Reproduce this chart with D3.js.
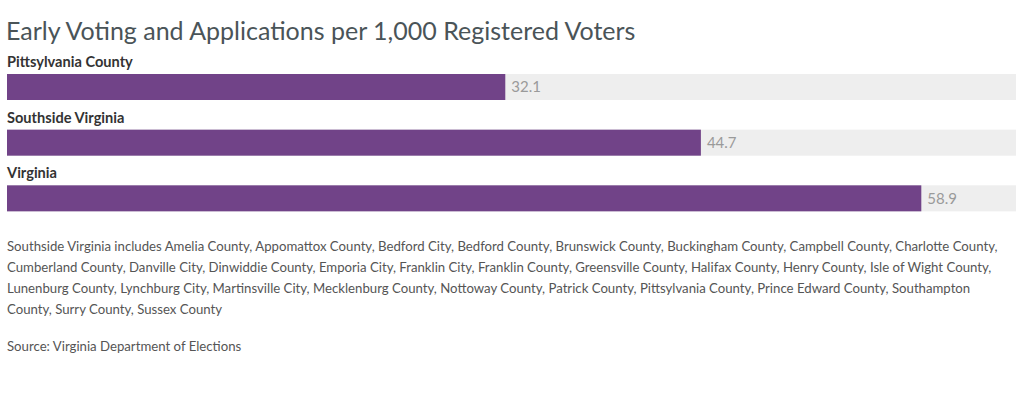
<!DOCTYPE html>
<meta charset="utf-8">
<style>
body { margin: 0; background: #fff; }
svg { display: block; font-family: Lato, sans-serif; }
.title { font-size: 25px; fill: #4a5458; }
.label { font-size: 14.6px; font-weight: bold; fill: #333; }
.value { font-size: 15px; fill: #9a9a9a; }
.note { font-size: 13.2px; fill: #555; }
</style>
<svg width="1024" height="396"></svg>
<script src="https://d3js.org/d3.v7.min.js"></script>
<script>

var categories = ["Pittsylvania County", "Southside Virginia", "Virginia"];
var values = [32.1, 44.7, 58.9];
var noteLines = [
  "Southside Virginia includes Amelia County, Appomattox County, Bedford City, Bedford County, Brunswick County, Buckingham County, Campbell County, Charlotte County,",
  "Cumberland County, Danville City, Dinwiddie County, Emporia City, Franklin City, Franklin County, Greensville County, Halifax County, Henry County, Isle of Wight County,",
  "Lunenburg County, Lynchburg City, Martinsville City, Mecklenburg County, Nottoway County, Patrick County, Pittsylvania County, Prince Edward County, Southampton",
  "County, Surry County, Sussex County"
];
var source = "Source: Virginia Department of Elections";

var svg = d3.select("svg");

var left = 7, right = 1016,
    barH = 26;

var x = d3.scaleLinear().domain([0, 65]).range([left, right]);
var y = d3.scaleBand().domain(categories).range([56, 223]).paddingInner(0);

svg.append("text")
  .attr("class", "title")
  .attr("x", 6)
  .attr("y", 40)
  .text("Early Voting and Applications per 1,000 Registered Voters");

var row = svg.selectAll(".row")
  .data(categories)
  .enter().append("g")
    .attr("class", "row")
    .attr("transform", function(d) { return "translate(0," + y(d) + ")"; });

row.append("text")
  .attr("class", "label")
  .attr("x", left)
  .attr("y", 11)
  .text(function(d) { return d; });

row.append("rect")
  .attr("x", x(0))
  .attr("y", 18)
  .attr("width", x(65) - x(0))
  .attr("height", barH)
  .attr("fill", "#eeeeee");

row.append("rect")
  .attr("x", x(0))
  .attr("y", 18)
  .attr("width", function(d, i) { return x(values[i]) - x(0); })
  .attr("height", barH)
  .attr("fill", "#714388");

row.append("text")
  .attr("class", "value")
  .attr("x", function(d, i) { return x(values[i]) + 6; })
  .attr("y", 18 + barH / 2)
  .attr("dy", "0.35em")
  .text(function(d, i) { return values[i]; });

svg.append("g").selectAll("text")
  .data(noteLines)
  .enter().append("text")
    .attr("class", "note")
    .attr("x", left)
    .attr("y", function(d, i) { return 251 + i * 21; })
    .text(function(d) { return d; });

svg.append("text")
  .attr("class", "note")
  .attr("x", left)
  .attr("y", 351)
  .text(source);

</script>
